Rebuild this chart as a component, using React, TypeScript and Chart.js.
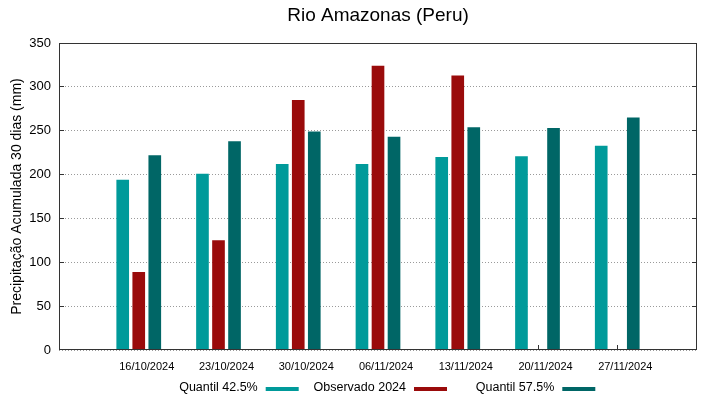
import React, { useEffect, useRef } from 'react';
import { Chart, registerables } from 'chart.js';

Chart.register(...registerables);

const chartTitle = 'Rio Amazonas (Peru)';
const yAxisTitle = 'Precipitação Acumulada 30 dias (mm)';
const categories = ['16/10/2024', '23/10/2024', '30/10/2024', '06/11/2024', '13/11/2024', '20/11/2024', '27/11/2024'];
const quantil425 = [194, 201, 212, 212, 220, 221, 233];
const observado2024 = [89, 125, 285, 324, 313, null, null];
const quantil575 = [222, 238, 249, 243, 254, 253, 265];
const yTicks = [0, 50, 100, 150, 200, 250, 300, 350];
const seriesLabels = ['Quantil 42.5%', 'Observado 2024', 'Quantil 57.5%'];
const seriesColors = ['#009a9a', '#9a0b0b', '#006666'];

const FONT = '"Liberation Sans", Arial, Helvetica, sans-serif';

const toPoints = (arr: (number | null)[]) => arr.map((v, i) => ({ x: i, y: v }));

const decorPlugin = {
  id: 'decor',
  beforeDatasetsDraw(chart: any) {
    const { ctx, chartArea: a, scales } = chart;
    ctx.save();
    ctx.strokeStyle = '#333';
    ctx.lineWidth = 1;
    ctx.beginPath();
    yTicks.forEach((v) => {
      let y = Math.floor(scales.y.getPixelForValue(v)) + 0.5;
      y = Math.min(Math.max(y, a.top + 0.5), a.bottom - 0.5);
      ctx.moveTo(a.left, y);
      ctx.lineTo(a.left + 5, y);
      ctx.moveTo(a.right, y);
      ctx.lineTo(a.right - 5, y);
    });
    categories.forEach((_, i) => {
      const x = Math.round(scales.x.getPixelForValue(i)) + 0.5;
      ctx.moveTo(x, a.bottom);
      ctx.lineTo(x, a.bottom - 5);
    });
    ctx.stroke();
    ctx.restore();
  },
  afterDatasetsDraw(chart: any) {
    const { ctx, chartArea: a } = chart;
    ctx.save();
    ctx.strokeStyle = '#333';
    ctx.lineWidth = 1;
    ctx.strokeRect(a.left + 0.5, a.top + 0.5, a.right - a.left - 1, a.bottom - a.top - 1);
    ctx.restore();
  },
  afterDraw(chart: any) {
    const { ctx, chartArea: a } = chart;
    const cx = (a.left + a.right) / 2;
    ctx.save();
    ctx.fillStyle = '#000';
    ctx.font = `19px ${FONT}`;
    ctx.textAlign = 'center';
    ctx.textBaseline = 'middle';
    ctx.fillText(chartTitle, cx, 16);

    ctx.font = `12.5px ${FONT}`;
    ctx.textAlign = 'right';
    const colW = 148.3;
    const sampleLen = 33;
    seriesLabels.forEach((label, i) => {
      const sampleEnd = cx + 69 + (i - 1) * colW;
      const sampleStart = sampleEnd - sampleLen;
      ctx.fillStyle = '#000';
      ctx.fillText(label, sampleStart - 8, 388);
      ctx.fillStyle = seriesColors[i];
      ctx.fillRect(sampleStart, 387, sampleLen, 4);
    });
    ctx.restore();
  },
};

export default function App() {
  const canvasRef = useRef<HTMLCanvasElement | null>(null);

  useEffect(() => {
    if (!canvasRef.current) return;
    const datasets = [quantil425, observado2024, quantil575].map((arr, i) => ({
      label: seriesLabels[i],
      data: toPoints(arr),
      backgroundColor: seriesColors[i],
      borderWidth: 0,
      categoryPercentage: 0.603,
      barPercentage: 0.79,
    }));
    const chart = new Chart(canvasRef.current, {
      type: 'bar',
      data: { datasets } as any,
      plugins: [decorPlugin],
      options: {
        animation: false,
        responsive: true,
        maintainAspectRatio: false,
        layout: { padding: { left: 0, right: 22, top: 43, bottom: 0 } },
        plugins: {
          legend: { display: false },
          title: { display: false },
          tooltip: { enabled: false },
        },
        scales: {
          x: {
            type: 'linear',
            min: -1,
            max: 7,
            offset: false,
            afterFit: (scale: any) => {
              scale.height = 49;
            },
            grid: { display: false, offset: false, drawTicks: false },
            border: { display: false },
            ticks: {
              stepSize: 1,
              autoSkip: false,
              maxRotation: 0,
              labelOffset: 8,
              padding: 10,
              color: '#000',
              font: { family: FONT, size: 11 },
              callback: (v: any) => categories[v as number] ?? '',
            },
          },
          y: {
            min: 0,
            max: 350,
            afterFit: (scale: any) => {
              scale.width = 59;
            },
            grid: {
              drawTicks: false,
              color: '#9a9a9a',
              lineWidth: 1,
            },
            border: { display: false, dash: [1, 2] },
            ticks: {
              stepSize: 50,
              padding: 8,
              color: '#000',
              font: { family: FONT, size: 13 },
            },
            title: {
              display: true,
              text: yAxisTitle,
              color: '#000',
              font: { family: FONT, size: 14 },
              padding: { top: 8.6, bottom: 0 },
            },
          },
        },
      } as any,
    });
    return () => chart.destroy();
  }, []);

  return (
    <div style={{ position: 'fixed', left: 0, top: 0, width: 719, height: 399, background: '#fff' }}>
      <canvas ref={canvasRef} />
    </div>
  );
}
